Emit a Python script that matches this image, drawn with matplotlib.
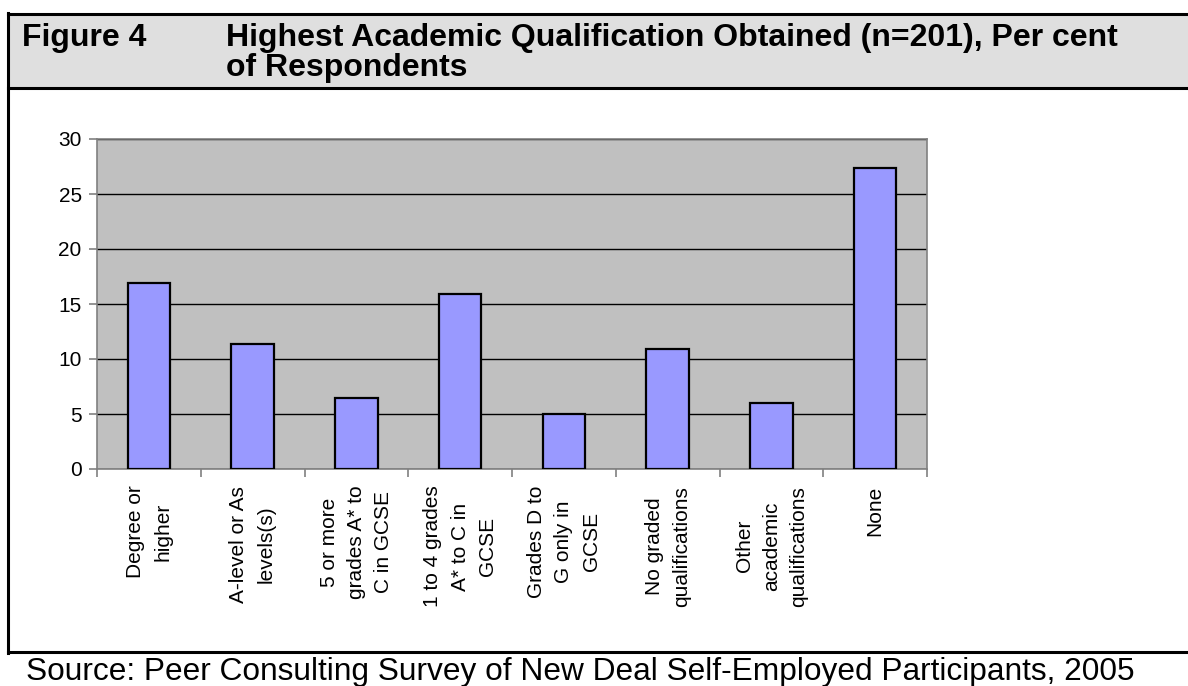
import numpy as np
import matplotlib
matplotlib.use('Agg')
import matplotlib.pyplot as plt
from matplotlib.lines import Line2D
from matplotlib.patches import Rectangle

# Highest academic qualification, per cent of respondents (n=201)
categories = [
    'Degree or\nhigher',
    'A-level or As\nlevels(s)',
    '5 or more\ngrades A* to\nC in GCSE',
    '1 to 4 grades\nA* to C in\nGCSE',
    'Grades D to\nG only in\nGCSE',
    'No graded\nqualifications',
    'Other\nacademic\nqualifications',
    'None',
]
percent = [16.9, 11.4, 6.5, 15.9, 5.0, 10.9, 6.0, 27.4]
yticks = [0, 5, 10, 15, 20, 25, 30]

title_num = 'Figure 4'
title_line1 = 'Highest Academic Qualification Obtained (n=201), Per cent'
title_line2 = 'of Respondents'
source_text = 'Source: Peer Consulting Survey of New Deal Self-Employed Participants, 2005'

W, H = 1188, 686
plt.rcParams['font.family'] = ['Liberation Sans', 'DejaVu Sans']


def fx(x):
    return x / W


def fy(y):
    return 1 - y / H


def main():
    fig = plt.figure(figsize=(W / 100, H / 100), dpi=100)

    # Title band and frame lines
    fig.add_artist(Rectangle((fx(8), fy(88)), fx(W - 8), fy(14) - fy(88),
                             transform=fig.transFigure, facecolor='#dfdfdf',
                             edgecolor='none', zorder=0))
    for y in (14, 88, 652):
        fig.add_artist(Line2D([fx(8), 1], [fy(y), fy(y)], color='black',
                              lw=2.2, transform=fig.transFigure))
    fig.add_artist(Line2D([fx(8), fx(8)], [fy(13), fy(653)], color='black',
                          lw=2.2, transform=fig.transFigure))

    fig.text(fx(22), fy(46), title_num, fontsize=23, fontweight='bold',
             va='baseline', ha='left')
    fig.text(fx(226), fy(46), title_line1, fontsize=23, fontweight='bold',
             va='baseline', ha='left')
    fig.text(fx(226), fy(76), title_line2, fontsize=23, fontweight='bold',
             va='baseline', ha='left')
    fig.text(fx(26), fy(680), source_text, fontsize=22.8,
             va='baseline', ha='left')

    # Bar chart
    ax = fig.add_axes([fx(97), fy(469), fx(927) - fx(97), fy(139) - fy(469)])
    x = np.arange(len(categories))
    ax.bar(x, percent, width=0.41, color='#9999ff', edgecolor='black',
           linewidth=1.6, zorder=3)
    ax.set_facecolor('#c0c0c0')
    ax.set_xlim(-0.5, len(categories) - 0.5)
    ax.set_ylim(0, 30)
    ax.set_yticks(yticks)
    ax.yaxis.grid(True, color='black', linewidth=1.0, zorder=1)
    ax.set_axisbelow(True)

    # Category ticks sit between the bars
    ax.set_xticks(np.arange(len(categories) + 1) - 0.5)
    ax.set_xticklabels([])
    ax.set_xticks(x, minor=True)
    ax.set_xticklabels(categories, minor=True, rotation=90, fontsize=15,
                       va='top', ha='center', multialignment='center',
                       linespacing=1.55)
    ax.tick_params(axis='x', which='minor', length=0, pad=12)
    ax.tick_params(axis='x', which='major', length=6, color='#808080',
                   width=1.2)
    ax.tick_params(axis='y', length=6, color='#808080', width=1.2,
                   labelsize=15, pad=5)
    for side in ('left', 'bottom', 'top', 'right'):
        ax.spines[side].set_color('#808080')
        ax.spines[side].set_linewidth(1.2)

    fig.savefig('out.png', dpi=100)
    return


if __name__ == '__main__':
    main()
